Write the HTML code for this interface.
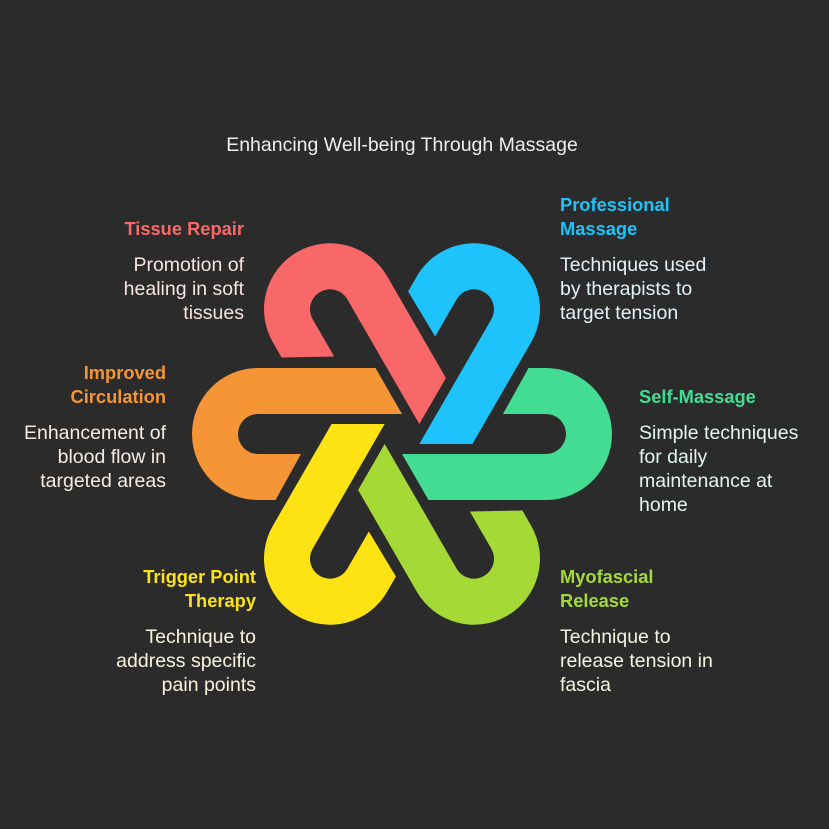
<!DOCTYPE html>
<html><head><meta charset="utf-8"><style>
html,body{margin:0;padding:0;background:#2b2b2b;}
body{width:829px;height:829px;position:relative;overflow:hidden;font-family:"Liberation Sans",Arial,sans-serif;}
.t{position:absolute;font-size:19.5px;line-height:24px;white-space:nowrap;}
.b{font-weight:bold;font-size:18.3px;}
.r{text-align:right;}
</style></head><body>
<svg width="829" height="829" style="position:absolute;left:0;top:0">
<defs>
<path id="s" d="M126.5,-66 L144,-66 A66,66 0 0 1 144,66 L26.5,66 L0,20 L144,20 A20,20 0 0 0 144,-20 L101,-20 Z"/>
</defs>
<g transform="translate(402,434)">
<use href="#s" fill="#43dc93"/>
<use href="#s" fill="#1dc3fa" transform="rotate(-60)"/>
<use href="#s" fill="#f86868" transform="rotate(-120)"/>
<use href="#s" fill="#f59536" transform="rotate(180)"/>
<use href="#s" fill="#fde314" transform="rotate(120)"/>
<use href="#s" fill="#a5d936" transform="rotate(60)"/>
</g>
</svg>
<div class="t" style="left:0;width:804px;text-align:center;top:133px;color:#eeeeee;font-size:19.5px;">Enhancing Well-being Through Massage</div>

<div class="t b r" style="right:585px;top:217px;color:#f86868;">Tissue Repair</div>
<div class="t r" style="right:585px;top:253px;color:#f8e4e2;">Promotion of<br>healing in soft<br>tissues</div>

<div class="t b" style="left:560px;top:193px;color:#1dc3fa;">Professional<br>Massage</div>
<div class="t" style="left:560px;top:253px;color:#e2f2f8;">Techniques used<br>by therapists to<br>target tension</div>

<div class="t b" style="left:639px;top:385px;color:#43dc93;">Self-Massage</div>
<div class="t" style="left:639px;top:421px;color:#e2f6ec;">Simple techniques<br>for daily<br>maintenance at<br>home</div>

<div class="t b r" style="right:663px;top:361px;color:#f59536;">Improved<br>Circulation</div>
<div class="t r" style="right:663px;top:421px;color:#f8ece0;">Enhancement of<br>blood flow in<br>targeted areas</div>

<div class="t b r" style="right:573px;top:565px;color:#fde314;">Trigger Point<br>Therapy</div>
<div class="t r" style="right:573px;top:625px;color:#f8f4dc;">Technique to<br>address specific<br>pain points</div>

<div class="t b" style="left:560px;top:565px;color:#a5d936;">Myofascial<br>Release</div>
<div class="t" style="left:560px;top:625px;color:#eef6e0;">Technique to<br>release tension in<br>fascia</div>
</body></html>
